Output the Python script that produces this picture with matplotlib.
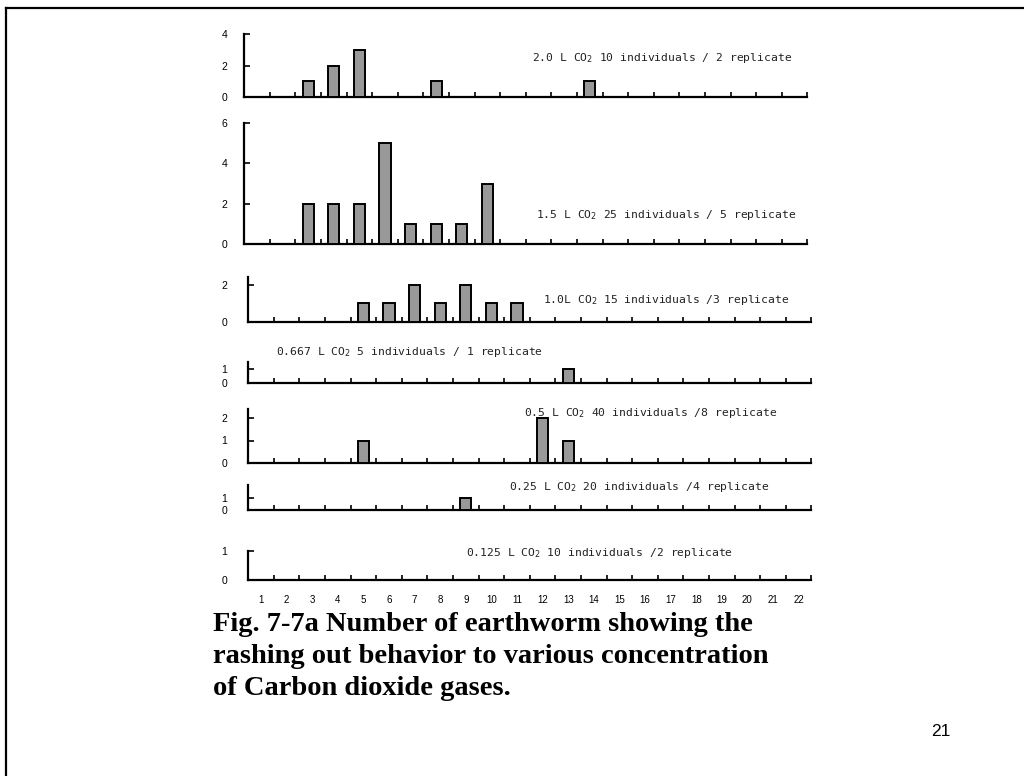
import numpy as np
import matplotlib
matplotlib.use('Agg')
import matplotlib.pyplot as plt
from matplotlib import font_manager

# time class (1..22) on the x axis
classes = list(range(1, 23))

# number of earthworms rushing out per class, one panel per CO2 dose
doses = ['2.0', '1.5', '1.0', '0.667', '0.5', '0.25', '0.125']
counts_20 = {3: 1, 4: 2, 5: 3, 8: 1, 14: 1}
counts_15 = {3: 2, 4: 2, 5: 2, 6: 5, 7: 1, 8: 1, 9: 1, 10: 3}
counts_10 = {5: 1, 6: 1, 7: 2, 8: 1, 9: 2, 10: 1, 11: 1}
counts_0667 = {13: 1}
counts_05 = {5: 1, 12: 2, 13: 1}
counts_025 = {9: 1}
counts_0125 = {}

labels = [
    '2.0 L CO$_2$ 10 individuals / 2 replicate',
    '1.5 L CO$_2$ 25 individuals / 5 replicate',
    '1.0L CO$_2$ 15 individuals /3 replicate',
    '0.667 L CO$_2$ 5 individuals / 1 replicate',
    '0.5 L CO$_2$ 40 individuals /8 replicate',
    '0.25 L CO$_2$ 20 individuals /4 replicate',
    '0.125 L CO$_2$ 10 individuals /2 replicate',
]
yticks = [[0, 2, 4], [0, 2, 4, 6], [0, 2], [0, 1], [0, 1, 2], [0, 1], [0, 1]]
ytops = [4, 6, 2.4, 1.5, 2.4, 2.0, 1.0]
all_counts = [counts_20, counts_15, counts_10, counts_0667, counts_05,
              counts_025, counts_0125]

# panel placement in pixels: x of class 1, y of zero line, y of axis top,
# label anchor (x, y)
W, H = 1024, 776
layout = [
    (257, 97, 34, (532, 58)),
    (257, 244, 123, (536, 215)),
    (261, 322, 277, (543, 300)),
    (261, 383, 362, (276, 352)),
    (261, 463, 409, (524, 413)),
    (261, 510, 485, (509, 487)),
    (261, 580, 551, (466, 553)),
]
step = 25.6

names = {f.name for f in font_manager.fontManager.ttflist}
narrow = 'Liberation Sans Narrow' if 'Liberation Sans Narrow' in names else 'Liberation Sans'

fig = plt.figure(figsize=(W / 100, H / 100), dpi=100)

# slide frame: top and left edge only
fig.add_artist(plt.Line2D([6 / W, 1], [1 - 8 / H, 1 - 8 / H], color='black', lw=1.6))
fig.add_artist(plt.Line2D([6 / W, 6 / W], [0, 1 - 8 / H], color='black', lw=1.6))

for i, (c1, y0, ytop, (lx, ly)) in enumerate(layout):
    left = c1 - step / 2
    width = step * 22
    ax = fig.add_axes([left / W, 1 - y0 / H, width / W, (y0 - ytop) / H])
    cnt = all_counts[i]
    vals = [cnt.get(c, 0) for c in classes]
    xs = [c for c, v in zip(classes, vals) if v > 0]
    hs = [v for v in vals if v > 0]
    ax.bar(xs, hs, width=0.44, color='#999999', edgecolor='black', linewidth=1.4, zorder=3)
    ax.set_xlim(0.5, 22.5)
    ax.set_ylim(0, ytops[i])
    for s in ['top', 'right']:
        ax.spines[s].set_visible(False)
    for s in ['left', 'bottom']:
        ax.spines[s].set_linewidth(1.6)
    ax.set_xticks(np.arange(0.5, 23, 1), minor=True)
    ax.tick_params(axis='x', which='minor', direction='in', length=3.5, width=1.2)
    ax.set_yticks(yticks[i])
    ax.tick_params(axis='y', direction='in', length=4.5, width=1.2,
                   pad=12 if i < 2 else 15, labelsize=7.5)
    for t in ax.get_yticklabels():
        t.set_family(narrow)
    if i == len(layout) - 1:
        ax.set_xticks(classes)
        ax.set_xticklabels([str(c) for c in classes], family=narrow, fontsize=7)
        ax.tick_params(axis='x', which='major', length=0, pad=11)
    else:
        ax.set_xticks([])
    ax.patch.set_alpha(0)
    fig.text(lx / W, 1 - ly / H, labels[i], fontsize=8.2, color='#222222',
             ha='left', va='center', family='DejaVu Sans Mono')

caption = ['Fig. 7-7a Number of earthworm showing the',
           'rashing out behavior to various concentration',
           'of Carbon dioxide gases.']
for k, line in enumerate(caption):
    fig.text(213 / W, 1 - (631 + 32 * k) / H, line, family='Liberation Serif',
             weight='bold', fontsize=20.5, ha='left', va='baseline')
fig.text(941 / W, 1 - 731 / H, '21', family='Liberation Sans', fontsize=12.5,
         ha='center', va='center')

fig.savefig('out.png', dpi=100)
